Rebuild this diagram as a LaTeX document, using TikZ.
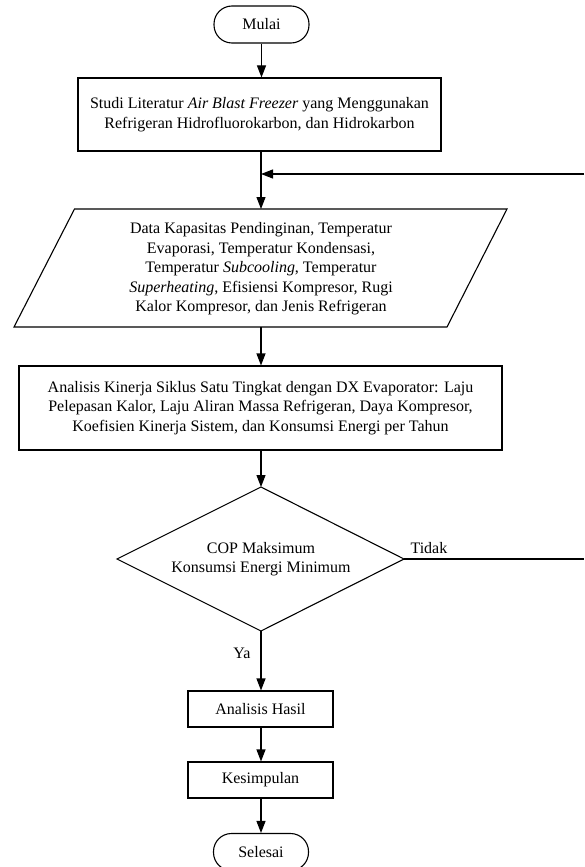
\documentclass[tikz,border=0pt]{standalone}
\usepackage{fontspec}
\setmainfont{Liberation Serif}
\usetikzlibrary{arrows.meta}
\begin{document}
\begin{tikzpicture}[x=1pt,y=-1pt,
  line width=1.1pt,
  font=\fontsize{16}{19.5}\selectfont,
  arr/.style={-{Triangle[length=12pt,width=9pt]}},
  terminal/.style={draw,rounded corners=18pt,minimum width=95pt,minimum height=37pt,inner sep=0pt},
  proc/.style={draw,align=center,inner sep=0pt},
  txt/.style={align=center,inner sep=0pt},
  lbl/.style={inner sep=0pt}
]
\useasboundingbox (0,0) rectangle (584,867);

\node[terminal] (start) at (261.5,24.5) {Mulai};
\node[proc,minimum width=363pt,minimum height=73pt] (studi) at (259.5,114.5)
  {Studi Literatur \textit{Air Blast Freezer} yang Menggunakan\\Refrigeran Hidrofluorokarbon, dan Hidrokarbon};

% parallelogram (input data)
\node[txt] (data) at (261,269)
  {Data Kapasitas Pendinginan, Temperatur\\Evaporasi, Temperatur Kondensasi,\\Temperatur \textit{Subcooling}, Temperatur\\\textit{Superheating}, Efisiensi Kompresor, Rugi\\Kalor Kompresor, dan Jenis Refrigeran};
\coordinate (dtop) at (261,209);
\coordinate (dbot) at (261,327);
\draw (14,327) -- (74.5,209) -- (507,209) -- (447,327) -- cycle;

\node[proc,minimum width=483pt,minimum height=84pt] (analisis) at (260.5,408)
  {Analisis Kinerja Siklus Satu Tingkat dengan DX Evaporator: Laju\\Pelepasan Kalor, Laju Aliran Massa Refrigeran, Daya Kompresor,\\Koefisien Kinerja Sistem, dan Konsumsi Energi per Tahun};

% decision diamond
\node[txt] (cop) at (261,559) {COP Maksimum\\Konsumsi Energi Minimum};
\coordinate (ctop) at (261,487);
\coordinate (cbot) at (261,631);
\coordinate (cleft) at (117,559);
\coordinate (cright) at (404,559);
\draw (ctop) -- (cright) -- (cbot) -- (cleft) -- cycle;

\node[proc,minimum width=145pt,minimum height=36pt] (hasil) at (260.5,709) {Analisis Hasil};
\node[proc,minimum width=145pt,minimum height=36pt] (kesimpulan) at (260.5,780) {Kesimpulan};
\node[terminal] (selesai) at (261,852) {Selesai};

% connectors
\coordinate (junc) at (261,174);
\coordinate (fbtop) at (584,174);
\coordinate (fbbot) at (584,559);

\draw[arr] (start.south) -- (start.south |- studi.north);
\draw[arr] (studi.south -| dtop) -- (dtop);
\draw[arr] (fbtop) -- (junc);
\draw[arr] (dbot) -- (dbot |- analisis.north);
\draw[arr] (analisis.south -| ctop) -- (ctop);
\draw (cright) -- (fbbot);
\draw[arr] (cbot) -- (cbot |- hasil.north);
\draw[arr] (hasil.south -| cbot) -- (cbot |- kesimpulan.north);
\draw[arr] (kesimpulan.south -| cbot) -- (cbot |- selesai.north);

\node[lbl,anchor=base west] (tidak) at (410,553) {Tidak};
\node[lbl,anchor=base east] (ya) at (251,658) {Ya};
\end{tikzpicture}
\end{document}
